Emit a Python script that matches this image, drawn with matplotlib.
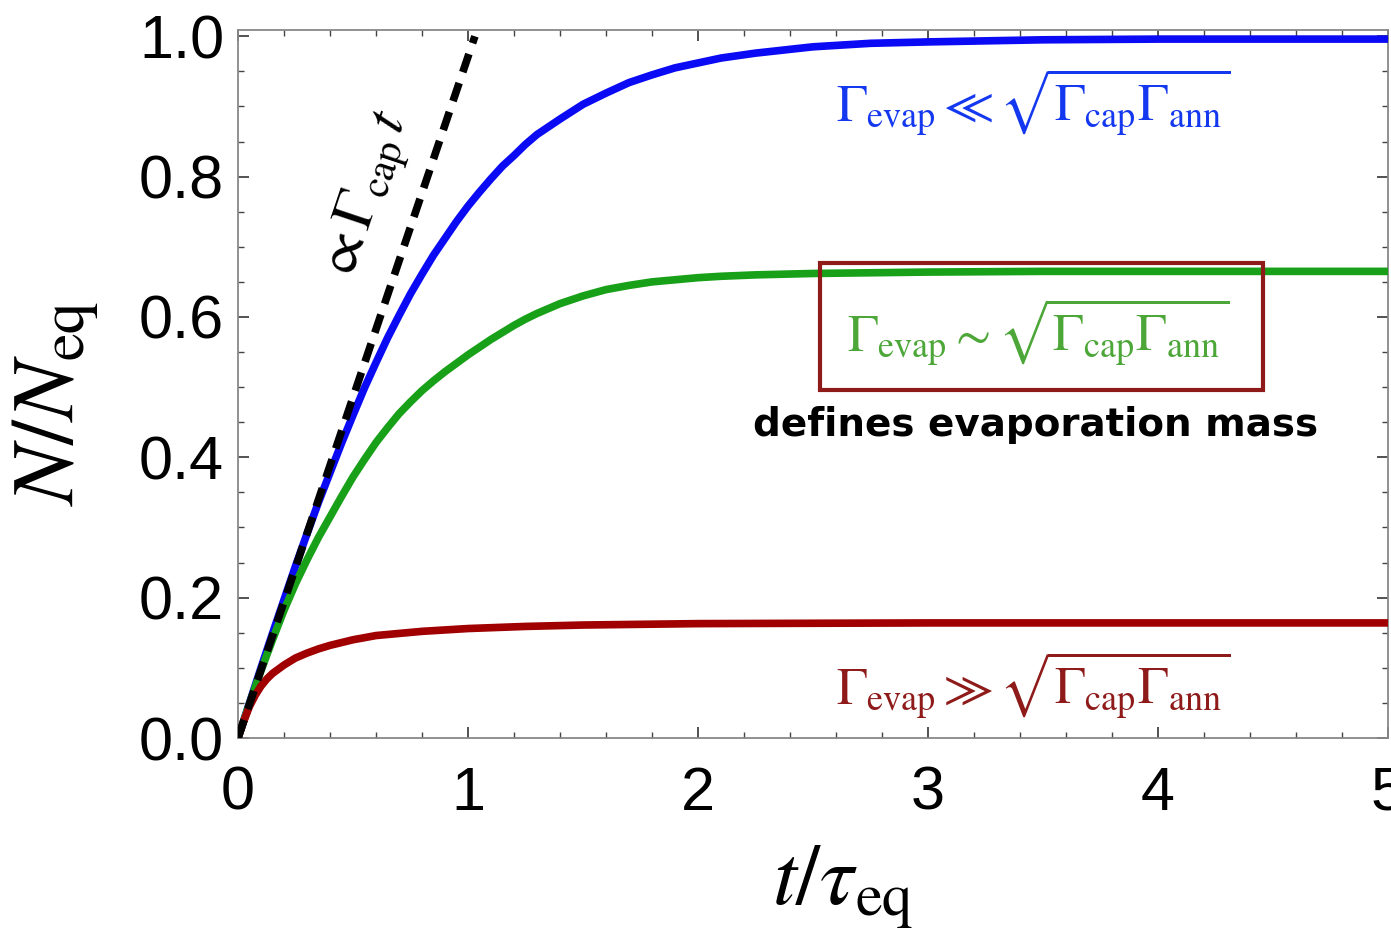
import matplotlib
matplotlib.use("Agg")
import matplotlib.pyplot as plt
from matplotlib.patches import Rectangle
from matplotlib.ticker import MultipleLocator

plt.rcParams['mathtext.fontset'] = 'stix'

# ---- data ----
t_blue = [0, 0.05, 0.1, 0.15, 0.2, 0.25, 0.3, 0.35, 0.4, 0.45, 0.5, 0.55, 0.6, 0.65,
          0.7, 0.75, 0.8, 0.85, 0.9, 0.95, 1.0, 1.05, 1.1, 1.15, 1.2, 1.25, 1.3, 1.4,
          1.5, 1.6, 1.7, 1.8, 1.9, 2.0, 2.1, 2.25, 2.5, 2.75, 3.0, 3.5, 4.0, 5.0]
n_blue = [0, 0.050, 0.100, 0.149, 0.197, 0.245, 0.291, 0.336, 0.378, 0.420, 0.460,
          0.499, 0.535, 0.570, 0.602, 0.633, 0.661, 0.688, 0.712, 0.736, 0.758, 0.778,
          0.797, 0.815, 0.830, 0.846, 0.860, 0.882, 0.903, 0.919, 0.934, 0.945, 0.955,
          0.962, 0.969, 0.976, 0.985, 0.990, 0.992, 0.995, 0.996, 0.996]

t_green = [0, 0.05, 0.1, 0.15, 0.2, 0.25, 0.3, 0.35, 0.4, 0.45, 0.5, 0.55, 0.6, 0.65,
           0.7, 0.75, 0.8, 0.85, 0.9, 0.95, 1.0, 1.05, 1.1, 1.15, 1.2, 1.25, 1.3, 1.4,
           1.5, 1.6, 1.7, 1.8, 1.9, 2.0, 2.1, 2.25, 2.5, 2.75, 3.0, 3.5, 4.0, 5.0]
n_green = [0, 0.049, 0.096, 0.140, 0.182, 0.220, 0.254, 0.286, 0.315, 0.344, 0.372,
           0.397, 0.421, 0.442, 0.462, 0.479, 0.495, 0.509, 0.522, 0.534, 0.546, 0.557,
           0.568, 0.578, 0.588, 0.597, 0.605, 0.619, 0.630, 0.639, 0.645, 0.650, 0.653,
           0.656, 0.658, 0.660, 0.662, 0.663, 0.664, 0.665, 0.665, 0.665]

t_red = [0, 0.025, 0.05, 0.075, 0.1, 0.125, 0.15, 0.175, 0.2, 0.25, 0.3, 0.35, 0.4,
         0.45, 0.5, 0.55, 0.6, 0.7, 0.8, 0.9, 1.0, 1.25, 1.5, 2.0, 3.0, 5.0]
n_red = [0, 0.024, 0.045, 0.061, 0.074, 0.084, 0.092, 0.098, 0.104, 0.114, 0.121,
         0.127, 0.132, 0.136, 0.140, 0.143, 0.146, 0.149, 0.152, 0.154, 0.156, 0.159,
         0.161, 0.163, 0.164, 0.164]

t_linear = [0, 1.03]
n_linear = [0, 1.0]

x_ticks = [0, 1, 2, 3, 4, 5]
y_ticks = [0.0, 0.2, 0.4, 0.6, 0.8, 1.0]
y_ticklabels = ["0.0", "0.2", "0.4", "0.6", "0.8", "1.0"]

label_blue = r'$\Gamma_{\rm evap} \ll \sqrt{\Gamma_{\rm cap}\Gamma_{\rm ann}}$'
label_green = r'$\Gamma_{\rm evap} \sim \sqrt{\Gamma_{\rm cap}\Gamma_{\rm ann}}$'
label_red = r'$\Gamma_{\rm evap} \gg \sqrt{\Gamma_{\rm cap}\Gamma_{\rm ann}}$'
label_linear = r'$\propto \Gamma_{\rm cap}\, t$'
label_note = "defines evaporation mass"

# ---- figure ----
fig = plt.figure(figsize=(13.91, 9.31), dpi=100)
ax = fig.add_axes([0.1711, 0.2073, 0.8267, 0.7605])

c_blue = '#0A0AF5'
c_green = '#18A018'
c_red = '#A00000'

ax.plot(t_blue, n_blue, color=c_blue, lw=5.5, solid_capstyle='round',
        solid_joinstyle='round', zorder=3)
ax.plot(t_green, n_green, color=c_green, lw=5.5, solid_capstyle='round',
        solid_joinstyle='round', zorder=4)
ax.plot(t_red, n_red, color=c_red, lw=5.5, solid_capstyle='round',
        solid_joinstyle='round', zorder=5)
ax.plot(t_linear, n_linear, color='black', lw=5.5, dashes=(2.5, 1.5), zorder=6)

ax.set_xlim(0, 5)
ax.set_ylim(0, 1.009)

ax.set_xticks(x_ticks)
ax.set_xticklabels([str(v) for v in x_ticks])
ax.set_yticks(y_ticks)
ax.set_yticklabels(y_ticklabels)
ax.xaxis.set_minor_locator(MultipleLocator(0.2))
ax.yaxis.set_minor_locator(MultipleLocator(0.05))

for lab in ax.get_xticklabels() + ax.get_yticklabels():
    lab.set_fontfamily('Liberation Sans')
    lab.set_fontsize(44)

ax.tick_params(which='both', direction='in', top=True, right=True, color='#444444')
ax.tick_params(which='major', length=8, width=1.3)
ax.tick_params(which='minor', length=4.5, width=1.0)
ax.tick_params(axis='x', which='major', pad=20)
ax.tick_params(axis='y', which='major', pad=10)
for sp in ax.spines.values():
    sp.set_color('#888888')
    sp.set_linewidth(1.3)

ax.set_xlabel(r'$t/\tau_{\rm eq}$', fontsize=62, labelpad=10)
ax.xaxis.set_label_coords(0.526, -0.150)
ax.set_ylabel(r'$N/N_{\rm eq}$', fontsize=64, labelpad=10)
ax.yaxis.set_label_coords(-0.118, 0.472)

ax.text(3.46, 0.905, label_blue, color='#1438F0', fontsize=37, ha='center', va='center')
ax.text(3.48, 0.578, label_green, color='#4CA638', fontsize=37, ha='center', va='center')
ax.text(3.46, 0.075, label_red, color='#8E1A1A', fontsize=37, ha='center', va='center')
ax.text(0.565, 0.77, label_linear, color='black', fontsize=42, ha='center', va='center',
        rotation=71.5, rotation_mode='anchor')
ax.text(3.47, 0.446, label_note, color='black', fontsize=28, fontweight='bold',
        family='DejaVu Sans', ha='center', va='center')

ax.add_patch(Rectangle((2.53, 0.496), 1.925, 0.181, fill=False, edgecolor='#8E1A1A',
                       lw=3, zorder=7))

fig.savefig('out.png', dpi=100, facecolor='white')
